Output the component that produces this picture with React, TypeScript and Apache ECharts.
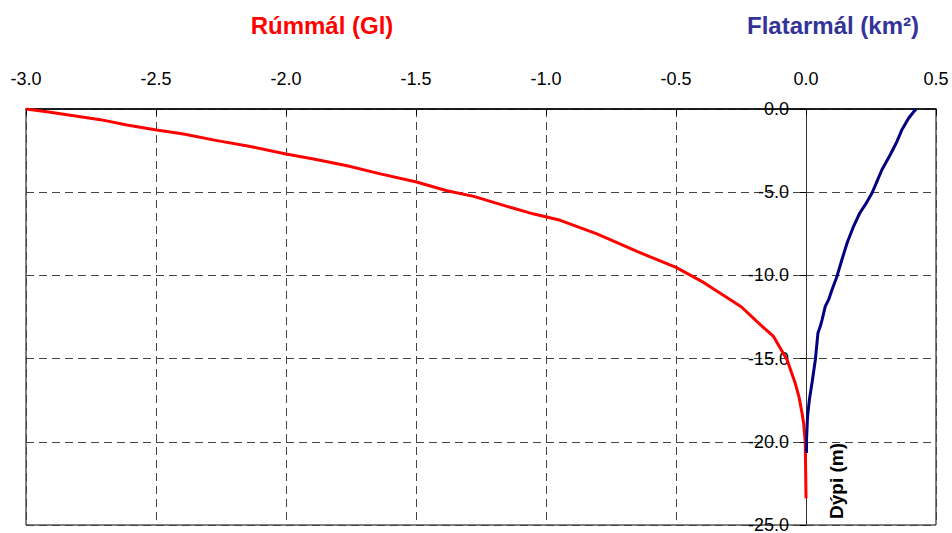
import React, { useEffect, useRef } from "react";
import * as echarts from "echarts";

// Rúmmál (volume, Gl) plotted as negative values against depth (m)
const volumeDepth = [0, -0.2, -0.64, -0.96, -1.26, -1.5, -1.9, -2.25, -2.7, -3.0, -3.41, -3.9, -4.39, -4.91, -5.25, -5.85, -6.3, -6.69, -7.51, -8.56, -9.52, -10.42, -11.46, -11.9, -12.96, -13.67, -15.07, -16.5, -17.3, -18.3, -18.9, -20.0, -20.9, -23.4];
const volumeValues = [-3.0, -2.906, -2.714, -2.612, -2.498, -2.394, -2.265, -2.137, -2.0, -1.894, -1.765, -1.637, -1.498, -1.381, -1.278, -1.15, -1.05, -0.945, -0.804, -0.65, -0.5, -0.394, -0.291, -0.248, -0.176, -0.125, -0.073, -0.041, -0.027, -0.015, -0.009, -0.003, -0.002, 0];

// Flatarmál (area, km²) against depth (m)
const areaDepth = [0, -0.54, -1.24, -1.95, -2.75, -3.65, -4.35, -5.05, -5.75, -6.25, -7.05, -8.05, -9.06, -10.06, -10.86, -11.46, -11.86, -12.66, -13.06, -13.46, -15.07, -16.47, -17.47, -18.47, -19.87, -20.67];
const areaValues = [0.423, 0.395, 0.369, 0.35, 0.324, 0.292, 0.273, 0.254, 0.228, 0.207, 0.183, 0.158, 0.138, 0.119, 0.1, 0.087, 0.074, 0.062, 0.055, 0.046, 0.036, 0.023, 0.013, 0.006, 0.002, 0.002];

const xTicks = { min: -3, max: 0.5, interval: 0.5 };
const yTicks = { min: -25, max: 0, interval: 5 };

const titleVolume = "Rúmmál (Gl)";
const titleArea = "Flatarmál (km²)";
const yName = "Dýpi (m)";

const FONT = 'Arial, "Liberation Sans", sans-serif';

const GRID_LEFT = 26;
const GRID_WIDTH = 910;

export default function App() {
  const ref = useRef<HTMLDivElement>(null);
  useEffect(() => {
    if (!ref.current) return;
    const chart = echarts.init(ref.current, null, { renderer: "svg" });
    const volData = volumeValues.map((v, i) => [v, volumeDepth[i]]);
    const areaData = areaValues.map((v, i) => [v, areaDepth[i]]);
    // place the depth axis at x = 0 of the horizontal axis
    const zeroOffset = (GRID_WIDTH * (0 - xTicks.min)) / (xTicks.max - xTicks.min);
    chart.setOption({
      animation: false,
      backgroundColor: "#ffffff",
      grid: {
        left: GRID_LEFT,
        width: GRID_WIDTH,
        top: 109,
        bottom: 8,
        show: true,
        borderColor: "#000",
        borderWidth: 1,
        containLabel: false,
        outerBoundsMode: "none",
      },
      xAxis: {
        type: "value",
        position: "top",
        min: xTicks.min,
        max: xTicks.max,
        interval: xTicks.interval,
        axisLine: { show: true, onZero: false, lineStyle: { color: "#000", width: 1.5 } },
        axisTick: { show: true, inside: true, length: 6, lineStyle: { color: "#000" } },
        axisLabel: {
          show: true,
          margin: 21,
          fontSize: 18,
          color: "#000",
          fontFamily: FONT,
          showMinLabel: true,
          showMaxLabel: true,
          hideOverlap: false,
          formatter: (v: number) => v.toFixed(1),
        },
        splitLine: { show: true, lineStyle: { color: "#444", type: [8, 5], width: 1 } },
      },
      yAxis: {
        type: "value",
        position: "left",
        offset: -zeroOffset,
        min: yTicks.min,
        max: yTicks.max,
        interval: yTicks.interval,
        axisLine: { show: true, onZero: false, lineStyle: { color: "#333", width: 1 } },
        axisTick: { show: true, inside: false, length: 6, lineStyle: { color: "#000" } },
        axisLabel: {
          show: true,
          margin: 17,
          fontSize: 18,
          color: "#000",
          fontFamily: FONT,
          showMinLabel: true,
          showMaxLabel: true,
          hideOverlap: false,
          formatter: (v: number) => v.toFixed(1),
        },
        splitLine: { show: true, lineStyle: { color: "#444", type: [8, 5], width: 1 } },
      },
      graphic: [
        {
          type: "text",
          x: 322,
          y: 25,
          style: {
            text: titleVolume,
            fill: "#ff0000",
            font: `bold 24px ${FONT}`,
            textAlign: "center",
            textVerticalAlign: "middle",
          },
        },
        {
          type: "text",
          x: 833,
          y: 25,
          style: {
            text: titleArea,
            fill: "#333399",
            font: `bold 24px ${FONT}`,
            textAlign: "center",
            textVerticalAlign: "middle",
          },
        },
        {
          type: "text",
          x: 836,
          y: 481,
          rotation: Math.PI / 2,
          style: {
            text: yName,
            fill: "#000",
            font: `bold 19px ${FONT}`,
            textAlign: "center",
            textVerticalAlign: "middle",
          },
        },
      ],
      series: [
        {
          name: titleVolume,
          type: "line",
          data: volData,
          showSymbol: false,
          symbol: "none",
          lineStyle: { color: "#ff0000", width: 3 },
          z: 3,
        },
        {
          name: titleArea,
          type: "line",
          data: areaData,
          showSymbol: false,
          symbol: "none",
          lineStyle: { color: "#000080", width: 3 },
          z: 4,
        },
      ],
    });
    return () => chart.dispose();
  }, []);
  return (
    <div
      ref={ref}
      style={{ position: "fixed", left: 0, top: 0, width: 952, height: 533 }}
    />
  );
}
